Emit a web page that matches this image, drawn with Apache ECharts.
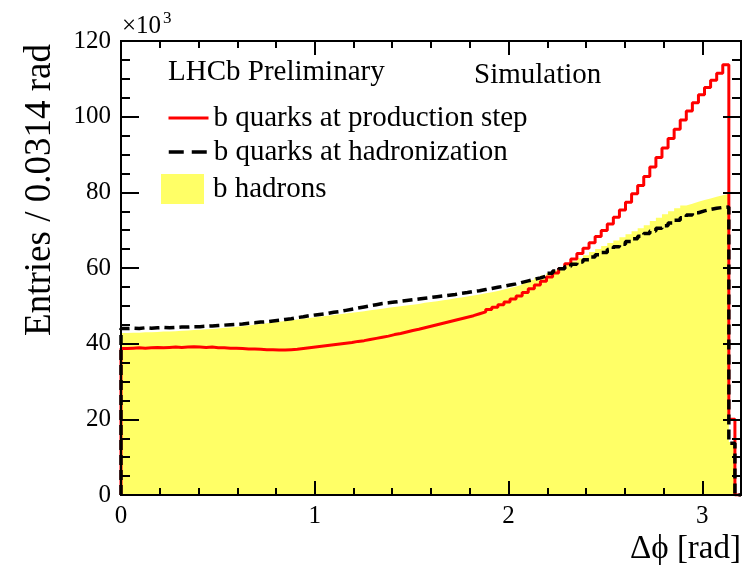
<!DOCTYPE html>
<html>
<head>
<meta charset="utf-8">
<script src="https://cdn.jsdelivr.net/npm/echarts@6/dist/echarts.min.js"></script>
<style>
html,body{margin:0;padding:0;background:#fff;}
#chart{width:753px;height:574px;}
</style>
</head>
<body>
<div id="chart"></div>
<script>
// Histogram: 102 bins of width 3.2/102 (~0.0314 rad) from 0 to 3.2
const X_MIN = 0;
const X_MAX = 3.2;
const N_BINS = 102;
const Y_MIN = 0;
const Y_MAX = 120;
const X_TICKS = [0, 1, 2, 3];
const Y_TICKS = [0, 20, 40, 60, 80, 100, 120];

// b quarks at production step (x10^3 entries per bin)
const production = [
  38.7, 38.8, 38.9, 38.8, 38.9, 39.0, 38.9, 39.0, 39.1, 39.0,
  39.1, 39.2, 39.1, 39.0, 39.1, 38.9, 38.9, 38.8, 38.8, 38.7,
  38.6, 38.6, 38.5, 38.4, 38.4, 38.3, 38.3, 38.4, 38.5, 38.7,
  38.9, 39.1, 39.3, 39.5, 39.7, 39.9, 40.1, 40.3, 40.6, 40.8,
  41.1, 41.4, 41.7, 42.0, 42.4, 42.7, 43.1, 43.5, 43.8, 44.2,
  44.6, 45.0, 45.4, 45.8, 46.2, 46.6, 47.0, 47.4, 47.9, 48.4,
  49.0, 49.6, 50.3, 51.0, 51.8, 52.6, 53.5, 54.5, 55.5, 56.5,
  57.6, 58.7, 59.9, 61.1, 62.4, 63.8, 65.2, 66.7, 68.3, 69.9,
  71.6, 73.4, 75.3, 77.4, 79.6, 81.8, 84.2, 86.7, 89.2, 91.7,
  94.2, 96.7, 99.1, 101.5, 103.7, 105.8, 107.7, 109.6, 111.5, 113.7,
  20.0, 0
];

// b quarks at hadronization
const hadronization = [
  44.0, 44.1, 44.0, 44.2, 44.1, 44.2, 44.3, 44.2, 44.3, 44.4,
  44.4, 44.5, 44.5, 44.6, 44.7, 44.8, 44.9, 45.0, 45.1, 45.2,
  45.4, 45.5, 45.7, 45.8, 46.0, 46.2, 46.4, 46.6, 46.9, 47.1,
  47.4, 47.6, 47.8, 48.0, 48.3, 48.5, 48.8, 49.1, 49.4, 49.7,
  50.0, 50.3, 50.6, 50.8, 51.0, 51.2, 51.4, 51.6, 51.8, 52.0,
  52.2, 52.4, 52.6, 52.8, 53.0, 53.3, 53.5, 53.8, 54.0, 54.3,
  54.6, 54.9, 55.2, 55.5, 55.8, 56.2, 56.6, 57.0, 57.4, 57.9,
  58.6, 59.2, 59.8, 60.4, 61.0, 61.6, 62.2, 62.9, 63.5, 64.1,
  64.9, 65.6, 66.3, 67.0, 67.7, 68.4, 69.1, 69.8, 70.5, 71.2,
  71.9, 72.6, 73.3, 74.0, 74.6, 75.1, 75.5, 75.8, 76.0, 76.1,
  13.7, 0
];

// b hadrons
const hadrons = [
  42.8, 42.9, 42.9, 43.0, 43.0, 43.1, 43.2, 43.2, 43.3, 43.4,
  43.5, 43.6, 43.7, 43.8, 43.9, 44.0, 44.2, 44.3, 44.5, 44.6,
  44.8, 45.0, 45.2, 45.4, 45.6, 45.8, 46.0, 46.2, 46.4, 46.6,
  46.8, 47.0, 47.2, 47.4, 47.6, 47.8, 48.0, 48.2, 48.4, 48.6,
  48.8, 49.0, 49.2, 49.5, 49.7, 49.9, 50.1, 50.3, 50.5, 50.8,
  51.0, 51.2, 51.5, 51.7, 52.0, 52.2, 52.5, 52.7, 53.0, 53.3,
  53.6, 53.9, 54.3, 54.7, 55.1, 55.6, 56.2, 56.8, 57.4, 58.0,
  58.7, 59.4, 60.2, 61.0, 61.8, 62.6, 63.4, 64.2, 65.0, 65.8,
  66.6, 67.3, 68.1, 68.9, 69.7, 70.5, 71.3, 72.4, 73.3, 74.2,
  75.0, 75.8, 76.5, 77.0, 77.5, 78.0, 78.4, 78.8, 79.2, 79.6,
  14.0, 0
];

const NAMES = ['b quarks at production step', 'b quarks at hadronization', 'b hadrons'];

const binWidth = (X_MAX - X_MIN) / N_BINS;
function stepData(vals) {
  const pts = [[X_MIN, 0]];
  for (let i = 0; i < vals.length; i++) pts.push([X_MIN + i * binWidth, vals[i]]);
  pts.push([X_MAX, vals[vals.length - 1]]);
  return pts;
}

const FONT = 'Liberation Serif';
const AX = {color: '#000', width: 2};

function xAx(pos, interval, len, line, labels) {
  return {
    type: 'value', position: pos, min: X_MIN, max: X_MAX, interval: interval, z: 10,
    axisLine: {show: line, lineStyle: AX, onZero: false},
    axisTick: {show: true, inside: true, length: len, lineStyle: AX},
    axisLabel: {show: labels, color: '#000', fontFamily: FONT, fontSize: 25, margin: 9,
      showMaxLabel: false,
      formatter: v => (X_TICKS.indexOf(v) >= 0 ? String(v) : '')},
    splitLine: {show: false}
  };
}
function yAx(pos, labels) {
  return {
    type: 'value', position: pos, min: Y_MIN, max: Y_MAX, interval: 20, z: 10,
    axisLine: {show: true, lineStyle: AX, onZero: false},
    axisTick: {show: true, inside: true, length: 18, lineStyle: AX},
    minorTick: {show: true, splitNumber: 4, length: 9, lineStyle: AX},
    axisLabel: {show: labels, color: '#000', fontFamily: FONT, fontSize: 25, margin: 10,
      formatter: v => (Y_TICKS.indexOf(v) >= 0 ? String(v) : '')},
    splitLine: {show: false}
  };
}

const LEG_TEXT = {fontFamily: FONT, fontSize: 29, color: '#000', lineHeight: 30};

const textGraphics = [
  {type: 'text', x: 40, y: 190, rotation: Math.PI / 2,
   style: {text: 'Entries / 0.0314 rad', font: '37px "Liberation Serif"', fill: '#000', align: 'center', verticalAlign: 'middle'}},
  {type: 'text', x: 741, y: 549,
   style: {text: 'Δϕ [rad]', font: '33px "Liberation Serif"', fill: '#000', align: 'right', verticalAlign: 'middle'}},
  {type: 'text', x: 122, y: 39,
   style: {text: '×10', font: '25px "Liberation Serif"', fill: '#000', align: 'left', verticalAlign: 'bottom'}},
  {type: 'text', x: 163, y: 10,
   style: {text: '3', font: '17px "Liberation Serif"', fill: '#000', align: 'left', verticalAlign: 'top'}},
  {type: 'text', x: 168, y: 72,
   style: {text: 'LHCb Preliminary', font: '29px "Liberation Serif"', fill: '#000', align: 'left', verticalAlign: 'middle'}},
  {type: 'text', x: 474, y: 75,
   style: {text: 'Simulation', font: '29px "Liberation Serif"', fill: '#000', align: 'left', verticalAlign: 'middle'}}
];

const chart = echarts.init(document.getElementById('chart'), null, {renderer: 'canvas'});
chart.setOption({
  animation: false,
  backgroundColor: '#fff',
  grid: {left: 121, right: 12, top: 41, bottom: 79, containLabel: false, outerBoundsMode: 'none'},
  xAxis: [
    xAx('bottom', 1, 14, true, true),
    xAx('bottom', 0.2, 7, false, false),
    xAx('top', 1, 14, true, false),
    xAx('top', 0.2, 7, false, false)
  ],
  yAxis: [yAx('left', true), yAx('right', false)],
  legend: [
    {data: [NAMES[0]], left: 167, top: 103, orient: 'vertical', padding: 0,
     itemWidth: 40, itemHeight: 14, itemStyle: {opacity: 0},
     lineStyle: {width: 3, color: '#ff0000'},
     textStyle: LEG_TEXT},
    {data: [NAMES[1]], left: 167, top: 137, orient: 'vertical', padding: 0,
     itemWidth: 40, itemHeight: 14, itemStyle: {opacity: 0},
     lineStyle: {type: [15, 8], width: 3.5, color: '#000'},
     textStyle: LEG_TEXT},
    {data: [{name: NAMES[2], icon: 'rect'}], left: 161, top: 174, orient: 'vertical', padding: 0,
     itemWidth: 43, itemHeight: 30,
     textStyle: Object.assign({}, LEG_TEXT, {padding: [0, 0, 0, 4]})}
  ],
  graphic: textGraphics,
  series: [
    {name: NAMES[2], type: 'line', step: 'end', data: stepData(hadrons), xAxisIndex: 0, yAxisIndex: 0,
     symbol: 'none', showSymbol: false, z: 1,
     itemStyle: {color: '#ffff66'},
     lineStyle: {width: 0, color: '#ffff66'},
     areaStyle: {color: '#ffff66', opacity: 1}},
    {name: NAMES[0], type: 'line', step: 'end', data: stepData(production), xAxisIndex: 0, yAxisIndex: 0,
     symbol: 'none', showSymbol: false, z: 3,
     itemStyle: {color: '#ff0000'},
     lineStyle: {width: 3, color: '#ff0000'}},
    {name: NAMES[1], type: 'line', step: 'end', data: stepData(hadronization), xAxisIndex: 0, yAxisIndex: 0,
     symbol: 'none', showSymbol: false, z: 4,
     itemStyle: {color: '#000'},
     lineStyle: {width: 3.5, color: '#000', type: [10, 5]}}
  ]
});

// Plot frame, placed from the axes' own scale
const p0 = chart.convertToPixel({xAxisIndex: 0, yAxisIndex: 0}, [X_MIN, Y_MAX]);
const p1 = chart.convertToPixel({xAxisIndex: 0, yAxisIndex: 0}, [X_MAX, Y_MIN]);
chart.setOption({
  graphic: textGraphics.concat([{
    type: 'rect', z: 100, silent: true,
    shape: {x: p0[0], y: p0[1], width: p1[0] - p0[0], height: p1[1] - p0[1]},
    style: {fill: 'none', stroke: '#000', lineWidth: 2}
  }])
});
</script>
</body>
</html>
